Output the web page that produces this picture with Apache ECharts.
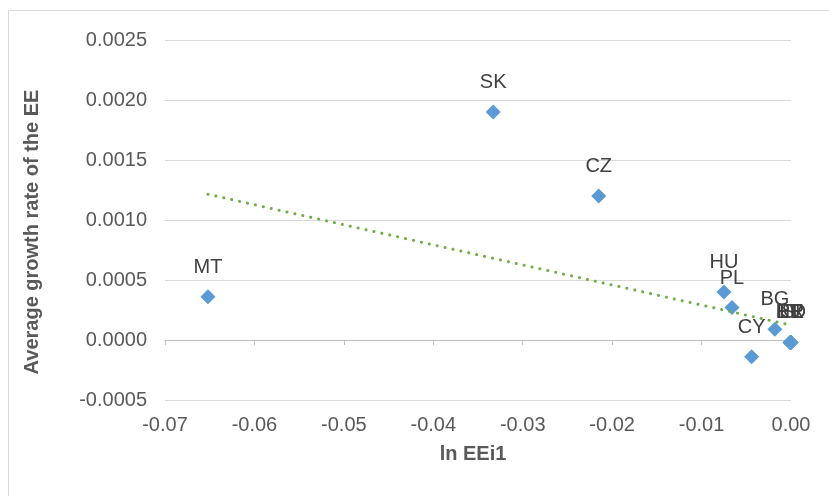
<!DOCTYPE html>
<html>
<head>
<meta charset="utf-8">
<script src="https://cdn.jsdelivr.net/npm/echarts@6/dist/echarts.min.js"></script>
<style>
  html, body { margin: 0; padding: 0; background: #fff; }
  #chart { width: 829px; height: 496px; }
</style>
</head>
<body>
<div id="chart"></div>
<script>
// countries and their values
var countries = ['MT', 'SK', 'CZ', 'HU', 'PL', 'CY', 'BG', 'EE', 'LV', 'LT', 'SI', 'RO', 'HR'];
var lnEEi1    = [-0.0652, -0.0333, -0.0215, -0.0075, -0.0066, -0.0044, -0.0018, -0.0001, 0, -0.0001, 0, 0, -0.0001];
var growthEE  = [0.00036, 0.0019, 0.0012, 0.0004, 0.00027, -0.00014, 0.00009, -0.00002, -0.00002, -0.00002, -0.00002, -0.00002, -0.00002];

var xTicks = { min: -0.07, max: 0, interval: 0.01 };
var yTicks = { min: -0.0005, max: 0.0025, interval: 0.0005 };

var textColor = '#595959';
var fontName = '"Liberation Sans", Arial, sans-serif';

// linear trendline (least squares), like excel does
function linearFit(xs, ys){
  var n = xs.length, sx = 0, sy = 0, sxy = 0, sxx = 0;
  for (var i = 0; i < n; i++) {
    sx += xs[i]; sy += ys[i];
    sxy += xs[i] * ys[i]; sxx += xs[i] * xs[i];
  }
  var slope = (n * sxy - sx * sy) / (n * sxx - sx * sx);
  var icpt = (sy - slope * sx) / n;
  return { slope: slope, icpt: icpt };
}

var fit = linearFit(lnEEi1, growthEE);
var xMin = Math.min.apply(null, lnEEi1);
var xMax = Math.max.apply(null, lnEEi1);
var trendData = [
  [xMin, fit.icpt + fit.slope * xMin],
  [xMax, fit.icpt + fit.slope * xMax]
];

var points = [];
for (let i = 0; i < countries.length; i++) {
  points.push({ name: countries[i], value: [lnEEi1[i], growthEE[i]] });
}

var chart = echarts.init(document.getElementById('chart'));
var option = {
  animation: false,
  backgroundColor: '#fff',
  textStyle: { fontFamily: fontName },
  graphic: [{
    type: 'rect',
    shape: { x: 8.5, y: 10.5, width: 900, height: 600 },
    style: { fill: 'none', stroke: '#d9d9d9', lineWidth: 1 },
    silent: true
  }],
  grid: { left: 165, top: 40, width: 626, height: 360, containLabel: false },
  xAxis: [
    {
      type: 'value',
      min: xTicks.min, max: xTicks.max, interval: xTicks.interval,
      name: 'ln EEi1',
      nameLocation: 'middle',
      nameGap: 44,
      nameTextStyle: {
        color: textColor, fontSize: 20, fontWeight: 'bold', fontFamily: fontName,
        padding: [0, 10, 0, 0]
      },
      axisLine: { show: false, onZero: false },
      axisTick: { show: false },
      splitLine: { show: false },
      axisLabel: {
        color: textColor, fontSize: 20, margin: 15, fontFamily: fontName,
        formatter: function (v) { return v.toFixed(2); }
      }
    },
    {
      // the axis line sitting at y = 0, excel style
      type: 'value',
      min: xTicks.min, max: xTicks.max, interval: xTicks.interval,
      axisLine: { show: true, onZero: true, lineStyle: { color: '#bfbfbf', width: 1 } },
      axisTick: { show: true, inside: true, length: 5, lineStyle: { color: '#bfbfbf' } },
      axisLabel: { show: false },
      splitLine: { show: false }
    }
  ],
  yAxis: {
    type: 'value',
    min: yTicks.min, max: yTicks.max, interval: yTicks.interval,
    name: 'Average growth rate of the EE',
    nameLocation: 'middle',
    nameGap: 123,
    nameRotate: 90,
    nameTextStyle: {
      color: textColor, fontSize: 20, fontWeight: 'bold', fontFamily: fontName,
      padding: [0, 24, 0, 0]
    },
    axisLine: { show: false, onZero: false },
    axisTick: { show: false },
    splitLine: { show: true, lineStyle: { color: '#d9d9d9', width: 1 } },
    axisLabel: {
      color: textColor, fontSize: 20, margin: 18, fontFamily: fontName,
      formatter: function (v) { return v.toFixed(4); }
    }
  },
  series: [
    {
      name: 'EE',
      type: 'scatter',
      symbol: 'diamond',
      symbolSize: 15,
      itemStyle: { color: '#5b9bd5', opacity: 1 },
      label: {
        show: true,
        position: 'top',
        distance: 12,
        formatter: '{b}',
        color: '#404040',
        fontSize: 20,
        fontFamily: fontName
      },
      data: points,
      z: 2
    },
    {
      name: 'Linear (EE)',
      type: 'line',
      symbol: 'none',
      silent: true,
      lineStyle: { color: '#70ad47', width: 3, type: [0.1, 8], cap: 'round' },
      data: trendData,
      z: 3
    }
  ]
};
chart.setOption(option);
</script>
</body>
</html>
